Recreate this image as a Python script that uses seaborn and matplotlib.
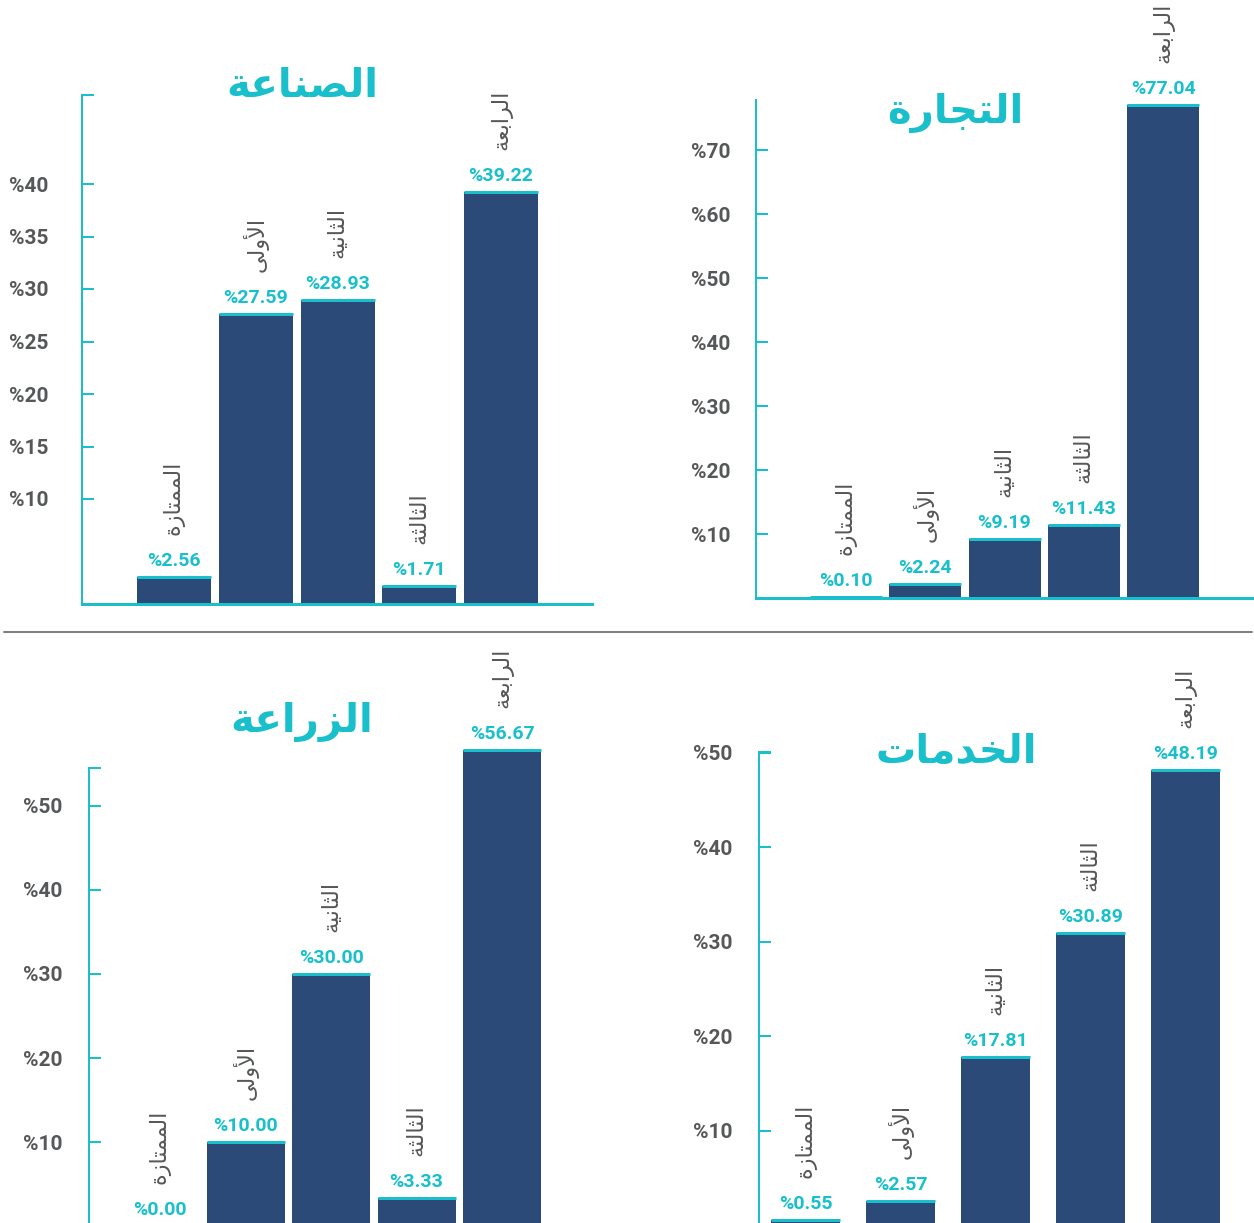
import matplotlib
matplotlib.use("Agg")
import matplotlib.pyplot as plt
from matplotlib.lines import Line2D
import seaborn as sns
import pandas as pd

# ---------------- data ----------------
categories = ['الممتازة', 'الأولى', 'الثانية', 'الثالثة', 'الرابعة']
titles = ['الصناعة', 'التجارة', 'الزراعة', 'الخدمات']
industry_values = [2.56, 27.59, 28.93, 1.71, 39.22]
trade_values = [0.10, 2.24, 9.19, 11.43, 77.04]
agriculture_values = [0.00, 10.00, 30.00, 3.33, 56.67]
services_values = [0.55, 2.57, 17.81, 30.89, 48.19]
industry_ticks = [10, 15, 20, 25, 30, 35, 40]
trade_ticks = [10, 20, 30, 40, 50, 60, 70]
agriculture_ticks = [10, 20, 30, 40, 50]
services_ticks = [10, 20, 30, 40, 50]

# ---------------- minimal Arabic shaping ----------------
AR_FORMS = {
    '\u0627': ('\uFE8D', '\uFE8E', None, None),
    '\u0623': ('\uFE83', '\uFE84', None, None),
    '\u0628': ('\uFE8F', '\uFE90', '\uFE91', '\uFE92'),
    '\u0629': ('\uFE93', '\uFE94', None, None),
    '\u062A': ('\uFE95', '\uFE96', '\uFE97', '\uFE98'),
    '\u062B': ('\uFE99', '\uFE9A', '\uFE9B', '\uFE9C'),
    '\u062C': ('\uFE9D', '\uFE9E', '\uFE9F', '\uFEA0'),
    '\u062E': ('\uFEA5', '\uFEA6', '\uFEA7', '\uFEA8'),
    '\u062F': ('\uFEA9', '\uFEAA', None, None),
    '\u0631': ('\uFEAD', '\uFEAE', None, None),
    '\u0632': ('\uFEAF', '\uFEB0', None, None),
    '\u0635': ('\uFEB9', '\uFEBA', '\uFEBB', '\uFEBC'),
    '\u0639': ('\uFEC9', '\uFECA', '\uFECB', '\uFECC'),
    '\u0644': ('\uFEDD', '\uFEDE', '\uFEDF', '\uFEE0'),
    '\u0645': ('\uFEE1', '\uFEE2', '\uFEE3', '\uFEE4'),
    '\u0646': ('\uFEE5', '\uFEE6', '\uFEE7', '\uFEE8'),
    '\u0648': ('\uFEED', '\uFEEE', None, None),
    '\u0649': ('\uFEEF', '\uFEF0', None, None),
    '\u064A': ('\uFEF1', '\uFEF2', '\uFEF3', '\uFEF4'),
}
LAM_ALEF = {'\u0627': ('\uFEFB', '\uFEFC'), '\u0623': ('\uFEF7', '\uFEF8')}


def shape(word):
    units, i = [], 0
    while i < len(word):
        c = word[i]
        if c == '\u0644' and i + 1 < len(word) and word[i + 1] in LAM_ALEF:
            units.append(('LA', word[i + 1]))
            i += 2
        else:
            units.append(('C', c))
            i += 1

    def dual(u):
        if u[0] == 'LA':
            return False
        f = AR_FORMS.get(u[1])
        return f is not None and f[2] is not None

    def joins(u):
        return u[0] == 'LA' or u[1] in AR_FORMS

    out = []
    for k, u in enumerate(units):
        prev = units[k - 1] if k > 0 else None
        nxt = units[k + 1] if k + 1 < len(units) else None
        jp = prev is not None and dual(prev) and joins(u)
        jn = nxt is not None and dual(u) and joins(nxt)
        if u[0] == 'LA':
            iso, fin = LAM_ALEF[u[1]]
            out.append(fin if jp else iso)
        elif u[1] in AR_FORMS:
            f = AR_FORMS[u[1]]
            if jp and jn:
                g = f[3]
            elif jp:
                g = f[1]
            elif jn:
                g = f[2]
            else:
                g = f[0]
            out.append(g)
        else:
            out.append(u[1])
    return ''.join(reversed(out))


# ---------------- style ----------------
sns.set_style("white")
plt.rcParams['font.family'] = ['Roboto', 'DejaVu Sans']

NAVY = '#2c4a78'
TEAL = '#19bfcb'
GRAY = '#555759'
W, H = 1254, 1223
PT = 72 / 100.0  # points per pixel

fig = plt.figure(figsize=(W / 100, H / 100), dpi=100)
fig.patch.set_facecolor('white')

panels = [
    (industry_values, industry_ticks),
    (trade_values, trade_ticks),
    (agriculture_values, agriculture_ticks),
    (services_values, services_ticks),
]
layouts = [
    dict(left=82, right=592, base=604, spine_top=95, top=20, c0=174, step=81.75, bw=74,
         pxper=10.5, pad=34, stub=True, title=(302, 97), bottom=True),
    dict(left=756, right=1252, base=598, spine_top=100, top=0, c0=846, step=79.25, bw=72,
         pxper=6.4, pad=26, stub=False, title=(955, 123), bottom=True),
    dict(left=89, right=600, base=1226, spine_top=768, top=640, c0=160, step=85.5, bw=78,
         pxper=8.4, pad=27, stub=True, title=(302, 732), bottom=False),
    dict(left=759, right=1254, base=1225, spine_top=752, top=640, c0=805.5, step=95, bw=69,
         pxper=9.45, pad=27, stub=True, title=(956, 763), bottom=False),
]

for (values, ticks), L, title in zip(panels, layouts, titles):
    ax = fig.add_axes([L['left'] / W, 1 - L['base'] / H,
                       (L['right'] - L['left']) / W, (L['base'] - L['top']) / H])
    ax.set_facecolor('none')
    df = pd.DataFrame({'cat': categories, 'val': values})
    sns.barplot(data=df, x='cat', y='val', order=categories, color=NAVY,
                saturation=1, width=L['bw'] / L['step'], linewidth=0, ax=ax)
    ax.set_xlim((L['left'] - L['c0']) / L['step'], (L['right'] - L['c0']) / L['step'])
    ymax = (L['base'] - L['top']) / L['pxper']
    ax.set_ylim(0, ymax)
    spine_top_val = (L['base'] - L['spine_top']) / L['pxper']

    # spines
    for s in ['top', 'right']:
        ax.spines[s].set_visible(False)
    ax.spines['left'].set_color(TEAL)
    ax.spines['left'].set_linewidth(2 * PT)
    ax.spines['left'].set_bounds(0, spine_top_val)
    ax.spines['bottom'].set_color(TEAL)
    ax.spines['bottom'].set_linewidth(3 * PT)
    ax.spines['bottom'].set_visible(L['bottom'])

    ax.set_xticks([])
    ax.set_xlabel('')
    ax.set_ylabel('')
    tpos = list(ticks) + ([spine_top_val] if L['stub'] else [])
    tlab = ['%' + str(t) for t in ticks] + ([''] if L['stub'] else [])
    ax.set_yticks(tpos)
    ax.set_yticklabels(tlab)
    ax.tick_params(axis='y', left=True, direction='in', length=12 * PT, width=2 * PT,
                   color=TEAL, pad=L['pad'] * PT, labelsize=15, labelcolor=GRAY)
    for lab in ax.get_yticklabels():
        lab.set_fontweight('bold')

    # bar caps and labels
    for p, v, c in zip(ax.patches, values, categories):
        x0 = p.get_x()
        x1 = x0 + p.get_width()
        h = p.get_height()
        ax.plot([x0, x1], [h, h], color=TEAL, lw=3 * PT, solid_capstyle='butt',
                clip_on=False, zorder=3)
        cx = x0 + p.get_width() / 2
        ax.annotate('%' + f'{v:.2f}', xy=(cx, h), xytext=(0, 11 * PT),
                    textcoords='offset points', ha='center', va='baseline',
                    color=TEAL, fontsize=14, fontweight='bold', annotation_clip=False)
        ax.annotate(shape(c), xy=(cx, h), xytext=(0, 42 * PT),
                    textcoords='offset points', ha='center', va='bottom', rotation=90,
                    color=GRAY, fontsize=16, family=['DejaVu Sans'], annotation_clip=False)

    tx, ty = L['title']
    fig.text(tx / W, 1 - ty / H, shape(title), ha='center', va='baseline', color=TEAL,
             fontsize=29, fontweight='bold', family=['DejaVu Sans'])

# separator line
fig.add_artist(Line2D([4 / W, 1252 / W], [1 - 632 / H, 1 - 632 / H],
                      color='#808080', lw=2 * PT))

fig.savefig('out.png', dpi=100, facecolor='white')
